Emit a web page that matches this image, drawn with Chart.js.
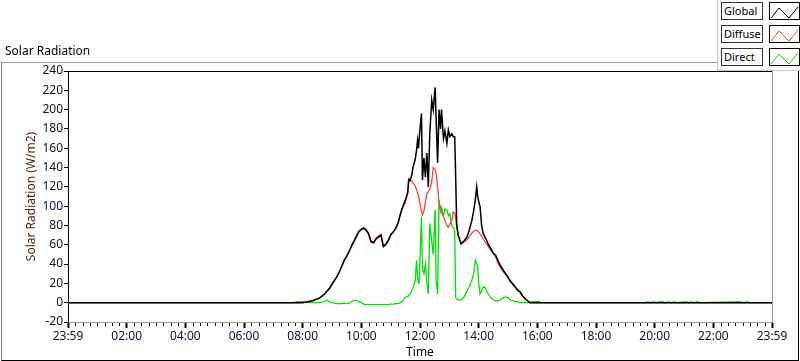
<!DOCTYPE html>
<html>
<head>
<meta charset="utf-8">
<script src="https://cdn.jsdelivr.net/npm/chart.js@4"></script>
<style>
  body { margin: 0; background: #fff; font-family: 'Noto Sans', sans-serif; }
  #wrap { position: relative; width: 800px; height: 361px; overflow: hidden; }
  #frame { position: absolute; left: 1px; top: 62px; width: 796px; height: 297px;
           border-top: 1px solid #a0a0a0; border-left: 1px solid #808080;
           border-right: 1px solid #000; border-bottom: 1px solid #000; }
  #title { position: absolute; left: 5px; top: 42px; font-size: 12px; color: #000; }
  canvas { position: absolute; left: 0; top: 0; }
  #legend { position: absolute; left: 717px; top: 0; width: 83px; height: 71px; background: #fff;
            border-left: 1px solid #c8c8c8; border-bottom: 1px solid #c8c8c8; box-sizing: border-box; }
  .row { position: absolute; left: 3px; height: 18px; }
  .lab { position: absolute; left: 0; top: 0; width: 42px; height: 18px; border: 1px solid #333;
         box-sizing: border-box; font-size: 11px; line-height: 16px; padding-left: 2px; color: #000; }
  .smp { position: absolute; left: 48px; top: 0; width: 31px; height: 18px; border: 1px solid #000;
         box-sizing: border-box; }
</style>
</head>
<body>
<div id="wrap">
  <div id="frame"></div>
  <canvas id="chart" width="800" height="361"></canvas>
  <div id="title">Solar Radiation</div>
  <div id="legend"></div>
</div>
<script>
const times = [
  '00:00','07:40','07:47','07:55','08:00','08:05','08:10','08:15','08:20','08:25','08:30','08:35','08:40','08:45','08:50','08:55',
  '09:00','09:05','09:10','09:15','09:20','09:25','09:30','09:35','09:40','09:45','09:50','09:55',
  '10:00','10:05','10:10','10:15','10:20','10:25','10:30','10:35','10:40','10:45','10:50','10:55',
  '11:00','11:05','11:10','11:15','11:20','11:25','11:30','11:35','11:37','11:40','11:43','11:46','11:50','11:53','11:55','11:57','11:58',
  '12:01','12:03','12:05','12:08','12:11','12:14','12:17','12:20','12:24','12:27','12:31','12:33','12:36','12:39','12:42','12:44','12:48','12:51','12:55','12:58',
  '13:01','13:05','13:08','13:11','13:13','13:15','13:18','13:24','13:30','13:36','13:40','13:46','13:50','13:53','13:56','13:58',
  '14:00','14:03','14:06','14:09','14:13','14:16','14:20','14:25','14:30','14:35','14:40','14:45','14:50','14:55',
  '15:00','15:05','15:10','15:15','15:20','15:25','15:30','15:35','15:40','15:45','15:50','16:05','16:08',
  '19:40','19:46','19:52','19:58','20:04','20:10','20:16','20:22','20:28','20:34','20:40','20:46','21:05','21:10','21:15','21:20','21:28','21:32','22:55','23:00','23:10','23:14','24:00'
];
const globalVals = [
  0,0,0,0,0,0.5,1,1.5,2,3,4,5,7,9,12,15,
  19,23,27,32,38,44,48,53,59,64,69,74,
  76,77,75,71,63,62,66,68,70,58,60,64,
  70,73,77,82,92,100,106,115,128,127,132,141,148,158,168,160,169,
  185,196,127,150,130,155,120,175,210,200,223,190,145,200,180,200,170,178,165,179,
  172,175,172,172,130,82,70,61,64,68,74,85,96,106,120,110,
  105,99,80,72,68,65,60,56,51,49,43,38,34,30,
  26,22,19,16,13,11,7,4,2,0,0,0,0,
  0,0,0,0,0,0,0,0,0,0,0,0,0,0,0,0,0,0,0,0,0,0,0
];
const diffuseVals = [
  0,0,0,0,0,0.5,1,1.5,2,3,4,5,7,9,12,15,
  19,23,27,32,37,43,48,53,58,63,68,73,
  76,78,76,72,64,63,67,69,71,60,61,65,
  71,73,77,82,92,99,104,113,125,127,126,124,121,117,114,111,108,
  100,95,91,95,104,113,115,117,125,140,138,134,120,103,97,93,89,85,80,78,
  81,85,94,93,88,78,70,61,63,65,68,72,74,75,75,74,
  73,71,69,66,63,61,58,54,51,47,40,36,32,30,
  27,23,20,16,13,11,7,4,2,0,0,0,0,
  0,0,0,0,0,0,0,0,0,0,0,0,0,0,0,0,0,0,0,0,0,0,0
];
const directVals = [
  0,0,1,1,1,0.5,0,0,0,0,0,0,0.5,1.5,2.5,1,
  0,-0.5,-1,-1,-1,-0.5,-1,-0.5,1,2.5,2.5,1,
  0,-1.5,-2,-2,-2,-2,-2,-2,-2,-2,-2,-2,
  -1.5,-1.5,-1,-1,0,2,6,6,8,9,12,16,22,44,25,20,20,
  60,89,35,30,40,20,9,82,64,50,96,23,9,106,95,99,90,97,96,90,
  92,80,78,75,5,4,3,3,6,12,16,23,30,44,40,37,
  20,9,12,16,16,12,9,5,3,2,2,3,5,6,
  5,3,2,1,1,0,0,0,0,0,1,1,0,
  0,1,0,1,0,1,1,0,1,0,1,0,1,0,1,0,1,0,1,0,1,0,0
];
const seriesNames = ['Global', 'Diffuse', 'Direct'];
const seriesColors = ['#000000', '#ff4040', '#00e000'];
const yTicks = [-20, 240, 20];  // min, max, step

function toHours(s) {
  const p = s.split(':');
  return Number(p[0]) + Number(p[1]) / 60;
}
function pts(vals) {
  return vals.map((v, i) => ({ x: toHours(times[i]), y: v }));
}
function hourLabel(v) {
  if (v === 0 || v === 24) return '23:59';
  return (v < 10 ? '0' : '') + v + ':00';
}

// short minor ticks and the plot box edges
const boxPlugin = {
  id: 'box',
  afterDraw(chart) {
    const ctx = chart.ctx, a = chart.chartArea, xs = chart.scales.x;
    ctx.save();
    ctx.strokeStyle = '#000';
    ctx.lineWidth = 1;
    ctx.beginPath();
    xs.ticks.forEach(t => {
      if (t.value % 2 !== 0) {
        const px = Math.round(xs.getPixelForValue(t.value)) + 0.5;
        ctx.moveTo(px, a.bottom + 1);
        ctx.lineTo(px, a.bottom + 4);
      }
    });
    ctx.stroke();
    ctx.beginPath();
    ctx.moveTo(a.left, a.top + 0.5);
    ctx.lineTo(a.right, a.top + 0.5);
    ctx.stroke();
    ctx.strokeStyle = '#a0a0a0';
    ctx.beginPath();
    ctx.moveTo(a.right + 0.5, a.top);
    ctx.lineTo(a.right + 0.5, a.bottom);
    ctx.stroke();
    ctx.restore();
  }
};

Chart.defaults.font.family = "'Noto Sans', sans-serif";
Chart.defaults.font.size = 12;
Chart.defaults.color = '#101020';

new Chart(document.getElementById('chart').getContext('2d'), {
  type: 'line',
  data: {
    datasets: [globalVals, diffuseVals, directVals].map((vals, i) => ({
      label: seriesNames[i],
      data: pts(vals),
      borderColor: seriesColors[i],
      borderWidth: i === 0 ? 1.5 : 1.3,
      pointRadius: 0,
      tension: 0,
      fill: false
    }))
  },
  options: {
    responsive: false,
    animation: false,
    events: [],
    layout: { autoPadding: false, padding: { left: 0, top: 71, right: 28, bottom: 0 } },
    plugins: { legend: { display: false }, title: { display: false }, tooltip: { enabled: false } },
    scales: {
      x: {
        type: 'linear',
        min: 0, max: 24,
        afterFit(s) { s.height = 39; },
        border: { display: true, color: '#a0a0a0' },
        grid: {
          drawOnChartArea: false, drawTicks: true, tickLength: 6,
          tickColor: c => (c.tick && c.tick.value % 2 === 0) ? '#000' : 'rgba(0,0,0,0)',
          tickWidth: c => (c.tick && c.tick.value % 2 === 0) ? 2 : 1
        },
        ticks: {
          stepSize: 0.25, autoSkip: false, maxRotation: 0, padding: 1, color: '#101030',
          callback: v => (v % 2 === 0 ? hourLabel(v) : '')
        },
        title: { display: true, text: 'Time', color: '#000', padding: { top: 0, bottom: 1 } }
      },
      y: {
        min: yTicks[0], max: yTicks[1],
        afterFit(s) { s.width = 68; },
        border: { display: true, color: '#000', width: 1 },
        grid: { drawOnChartArea: false, drawTicks: true, tickLength: 4, tickColor: '#000' },
        ticks: { stepSize: yTicks[2], padding: 1, color: '#101030' },
        title: { display: true, text: 'Solar Radiation (W/m2)', color: '#4a2810', padding: { top: 24, bottom: 0 } }
      }
    }
  },
  plugins: [boxPlugin]
});

// legend panel
const legend = document.getElementById('legend');
seriesNames.forEach((name, i) => {
  const row = document.createElement('div');
  row.className = 'row';
  row.style.top = (2 + i * 23) + 'px';
  row.innerHTML = '<div class="lab">' + name + '</div>' +
    '<div class="smp"><svg width="29" height="16"><polyline points="1,14 9,4 19,14 28,3" fill="none" stroke="' +
    seriesColors[i] + '" stroke-width="1"/></svg></div>';
  legend.appendChild(row);
});
</script>
</body>
</html>
